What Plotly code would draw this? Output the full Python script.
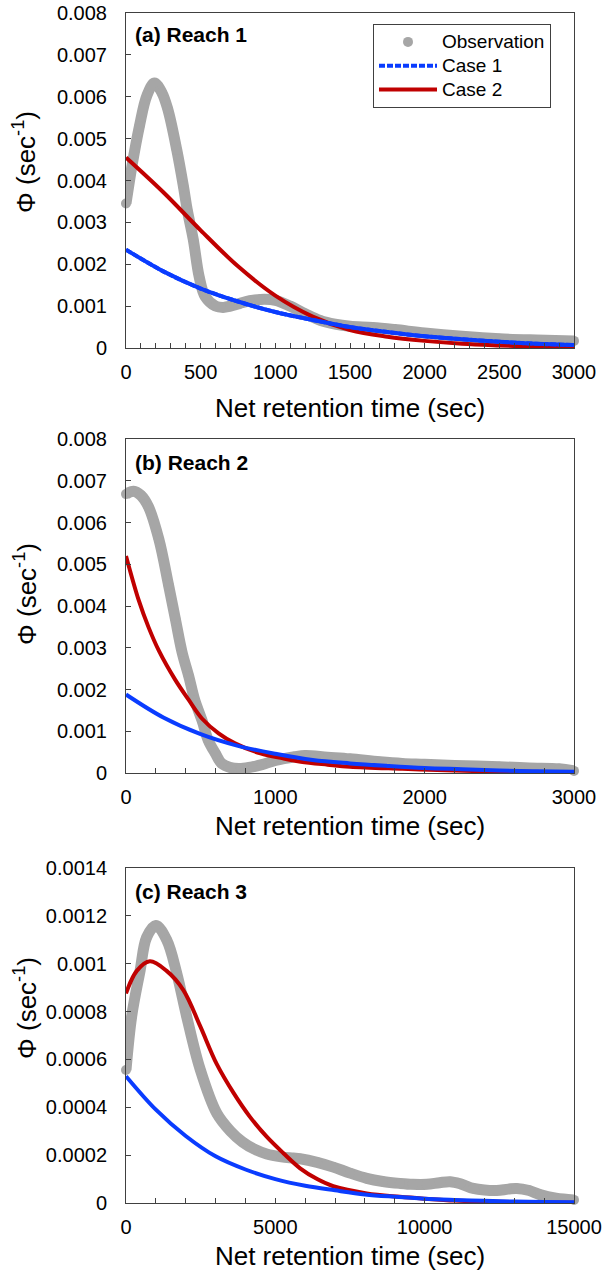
import plotly.graph_objects as go

# ---------------- data ----------------
# Panel (a) Reach 1
a_obs_t = [0, 40, 90, 140, 190, 240, 280, 340, 385, 410, 450, 490, 530, 600, 650, 700, 760, 830, 900,
           1000, 1100, 1200, 1300, 1400, 1500, 1650, 1800, 2000, 2250, 2500, 2750, 3000]
a_obs_y = [0.00345, 0.00435, 0.0053, 0.00603, 0.00633, 0.0061, 0.0057, 0.00473, 0.00385, 0.0033, 0.0026,
           0.0017, 0.00123, 0.001, 0.00097, 0.001, 0.00106, 0.00113, 0.00116, 0.00114, 0.001, 0.00082,
           0.00066, 0.00057, 0.00052, 0.00049, 0.00044, 0.00036, 0.00028, 0.00022, 0.00019, 0.00017]
a_c1_t = [0, 250, 500, 750, 1000, 1250, 1500, 1750, 2000, 2250, 2500, 2750, 3000]
a_c1_y = [0.00235, 0.00183, 0.00142, 0.00111, 0.00086, 0.00067, 0.0005, 0.00038, 0.00028, 0.00021,
          0.00015, 0.0001, 0.00007]
a_c2_t = [0, 250, 500, 750, 1000, 1250, 1500, 1750, 2000, 2250, 2500, 2750, 3000]
a_c2_y = [0.00455, 0.00372, 0.00281, 0.00195, 0.00125, 0.00075, 0.00043, 0.00027, 0.00017, 0.0001,
          0.00006, 0.00003, 0.00001]

# Panel (b) Reach 2
b_obs_t = [0, 50, 100, 150, 220, 285, 330, 375, 420, 460, 510, 550, 600, 640, 700, 770, 850, 910, 1000,
           1130, 1200, 1350, 1500, 1700, 1850, 2000, 2200, 2500, 2700, 2900, 3000]
b_obs_y = [0.00668, 0.00675, 0.00665, 0.00638, 0.0056, 0.0045, 0.0037, 0.0029, 0.00232, 0.00175,
           0.00125, 0.00079, 0.00046, 0.00023, 0.00013, 0.00011, 0.00015, 0.0002, 0.0003, 0.00039,
           0.00042, 0.00038, 0.00034, 0.00027, 0.00023, 0.00021, 0.00018, 0.00015, 0.00012, 0.0001, 0.00005]
b_c1_t = [0, 250, 500, 750, 1000, 1250, 1500, 1750, 2000, 2250, 2500, 2750, 3000]
b_c1_y = [0.00188, 0.00133, 0.00093, 0.00065, 0.00046, 0.00031, 0.00023, 0.00017, 0.00012, 0.00009,
          0.00006, 0.00004, 0.00003]
b_c2_t = [0, 85, 150, 220, 330, 420, 510, 620, 730, 900, 1050, 1170, 1350, 1500, 1850, 2200, 2500, 3000]
b_c2_y = [0.0052, 0.00414, 0.0035, 0.00293, 0.00223, 0.00175, 0.0013, 0.00095, 0.00071, 0.00047,
          0.00035, 0.00027, 0.0002, 0.00015, 0.0001, 0.00006, 0.00004, 0.00001]

# Panel (c) Reach 3
c_obs_t = [0, 190, 470, 690, 1000, 1360, 1700, 2030, 2480, 3040, 3500, 3900, 4300, 4710, 5200, 5600,
           5830, 6400, 6940, 7500, 8060, 8600, 9170, 9600, 10070, 10500, 10850, 11200, 11630, 12000,
           12410, 12800, 13080, 13500, 13860, 14400, 15000]
c_obs_y = [0.000556, 0.00078, 0.00097, 0.00111, 0.00116, 0.0011, 0.00096, 0.00078, 0.00056, 0.000375,
           0.0003, 0.000255, 0.000225, 0.000205, 0.000193, 0.000188, 0.000185, 0.00017, 0.00015, 0.000125,
           0.000103, 0.00009, 0.000082, 0.000078, 0.000078, 0.000085, 0.000089, 0.00008, 0.000061,
           0.000054, 0.000052, 0.000058, 0.000061, 0.000052, 0.000035, 0.00002, 0.000013]
c_c1_t = [0, 1000, 2000, 3000, 4000, 5000, 6000, 7000, 8000, 9000, 10000, 11000, 12000, 13000, 14000, 15000]
c_c1_y = [0.00053, 0.00039, 0.00028, 0.000195, 0.00014, 0.0001, 0.000072, 0.000053, 0.000036, 0.000026,
          0.000018, 0.000013, 0.000009, 0.000006, 0.000004, 0.000003]
c_c2_t = [0, 360, 800, 1360, 1920, 2480, 3040, 3600, 4150, 4710, 5270, 5830, 6400, 6940, 8060, 9170,
          10000, 11000, 12000, 13500, 15000]
c_c2_y = [0.000876, 0.00097, 0.00101, 0.00097, 0.00089, 0.00074, 0.00058, 0.00046, 0.00036, 0.000277,
          0.000208, 0.000145, 0.0001, 0.00007, 0.00004, 0.000026, 0.000018, 0.00001, 0.000006, 0.000003,
          0.000001]

# tick labels
ab_ytick_vals = [0, 0.001, 0.002, 0.003, 0.004, 0.005, 0.006, 0.007, 0.008]
ab_ytick_text = ["0", "0.001", "0.002", "0.003", "0.004", "0.005", "0.006", "0.007", "0.008"]
c_ytick_vals = [0, 0.0002, 0.0004, 0.0006, 0.0008, 0.001, 0.0012, 0.0014]
c_ytick_text = ["0", "0.0002", "0.0004", "0.0006", "0.0008", "0.001", "0.0012", "0.0014"]
a_xtick_vals = [0, 500, 1000, 1500, 2000, 2500, 3000]
b_xtick_vals = [0, 1000, 2000, 3000]
c_xtick_vals = [0, 5000, 10000, 15000]

panel_titles = ["(a) Reach 1", "(b) Reach 2", "(c) Reach 3"]
series_names = ["Observation", "Case 1", "Case 2"]
x_title = "Net retention time (sec)"
y_title = "Φ (sec<sup>-1</sup>)"

# ---------------- style ----------------
W, H = 605, 1279
FONT = "Arial, Liberation Sans, sans-serif"
GRAY = "#A6A6A6"
BLUE = "#0A3CFF"
RED = "#C00000"
AX = "#404040"

def px_x(p):
    return p / W

def px_y(p):
    return 1 - p / H

def leg_name(s):
    return f'<span style="font-size:19px">{s}</span>'

x_dom = [px_x(126), px_x(574)]
y_doms = [[px_y(348), px_y(13)], [px_y(773), px_y(439)], [px_y(1203), px_y(868)]]

fig = go.Figure()

panels = [
    (a_obs_t, a_obs_y, a_c1_t, a_c1_y, a_c2_t, a_c2_y),
    (b_obs_t, b_obs_y, b_c1_t, b_c1_y, b_c2_t, b_c2_y),
    (c_obs_t, c_obs_y, c_c1_t, c_c1_y, c_c2_t, c_c2_y),
]

for i, (ot, oy, t1, y1, t2, y2) in enumerate(panels):
    xa = "x" if i == 0 else f"x{i+1}"
    ya = "y" if i == 0 else f"y{i+1}"
    first = i == 0
    # observation: thick line through points + dots at points
    fig.add_trace(go.Scatter(x=ot, y=oy, mode="lines", line=dict(color=GRAY, width=11, shape="spline"),
                             xaxis=xa, yaxis=ya, showlegend=False, hoverinfo="skip"))
    fig.add_trace(go.Scatter(x=ot, y=oy, mode="markers", name=leg_name(series_names[0]),
                             marker=dict(color=GRAY, size=10, line=dict(width=0)),
                             xaxis=xa, yaxis=ya, showlegend=first, legendrank=1, cliponaxis=False))
    fig.add_trace(go.Scatter(x=t2, y=y2, mode="lines", name=leg_name(series_names[2]),
                             line=dict(color=RED, width=4, shape="spline"),
                             xaxis=xa, yaxis=ya, showlegend=first, legendrank=3))
    if first:
        fig.add_trace(go.Scatter(x=t1, y=y1, mode="lines", name=leg_name(series_names[1]),
                                 line=dict(color=BLUE, width=4, dash="6px,2px", shape="spline"),
                                 xaxis=xa, yaxis=ya, showlegend=True, legendrank=2))
    fig.add_trace(go.Scatter(x=t1, y=y1, mode="lines", name=series_names[1],
                             line=dict(color=BLUE, width=4, shape="spline"),
                             xaxis=xa, yaxis=ya, showlegend=False))

xcfg = [
    (3000, a_xtick_vals, 100, 16),
    (3000, b_xtick_vals, 200, 9),
    (15000, c_xtick_vals, 1000, 9),
]
ycfg = [
    (0.008, ab_ytick_vals, ab_ytick_text),
    (0.008, ab_ytick_vals, ab_ytick_text),
    (0.0014, c_ytick_vals, c_ytick_text),
]

layout = dict(
    width=W, height=H,
    margin=dict(l=0, r=0, t=0, b=0),
    paper_bgcolor="white", plot_bgcolor="white",
    font=dict(family=FONT, color="black"),
    showlegend=True,
    legend=dict(x=px_x(373), y=px_y(24), xanchor="left", yanchor="top",
                bgcolor="white", bordercolor=AX, borderwidth=1,
                font=dict(family=FONT, size=16, color="black"),
                itemwidth=58, tracegroupgap=0),
)

for i in range(3):
    xn = "xaxis" if i == 0 else f"xaxis{i+1}"
    yn = "yaxis" if i == 0 else f"yaxis{i+1}"
    xmax, xv, mdt, so = xcfg[i]
    ymax, yv, yt = ycfg[i]
    layout[xn] = dict(
        domain=x_dom, anchor="y" if i == 0 else f"y{i+1}",
        range=[0, xmax], tickvals=xv, ticktext=[str(v) for v in xv],
        showline=True, mirror=True, linecolor=AX, linewidth=1,
        ticks="inside", ticklen=5, tickcolor=AX, tickwidth=1,
        minor=dict(ticks="inside", ticklen=5, tickcolor=AX, dtick=mdt, showgrid=False),
        showgrid=False, zeroline=False,
        tickfont=dict(family=FONT, size=20, color="black"),
        ticklabelstandoff=6,
        title=dict(text=x_title, font=dict(family=FONT, size=26, color="black"), standoff=so),
        automargin=False,
    )
    layout[yn] = dict(
        domain=y_doms[i], anchor="x" if i == 0 else f"x{i+1}",
        range=[0, ymax], tickvals=yv, ticktext=yt,
        showline=True, mirror=True, linecolor=AX, linewidth=1,
        ticks="inside", ticklen=5, tickcolor=AX, tickwidth=1,
        showgrid=False, zeroline=False,
        tickfont=dict(family=FONT, size=20, color="black"),
        ticklabelstandoff=14,
        automargin=False,
    )

fig.update_layout(**layout)

# panel titles and y-axis titles
title_y = [35, 462, 891]
ytitle_y = [162, 594, 1008]
for i in range(3):
    fig.add_annotation(text=f"<b>{panel_titles[i]}</b>", xref="paper", yref="paper",
                       x=px_x(133), y=px_y(title_y[i]), xanchor="left", yanchor="middle",
                       showarrow=False, font=dict(family=FONT, size=21, color="black"))
    fig.add_annotation(text=y_title, xref="paper", yref="paper", textangle=-90,
                       x=px_x(25), y=px_y(ytitle_y[i]), xanchor="center", yanchor="middle",
                       showarrow=False, font=dict(family=FONT, size=26, color="black"))

fig.write_html("out.html")
